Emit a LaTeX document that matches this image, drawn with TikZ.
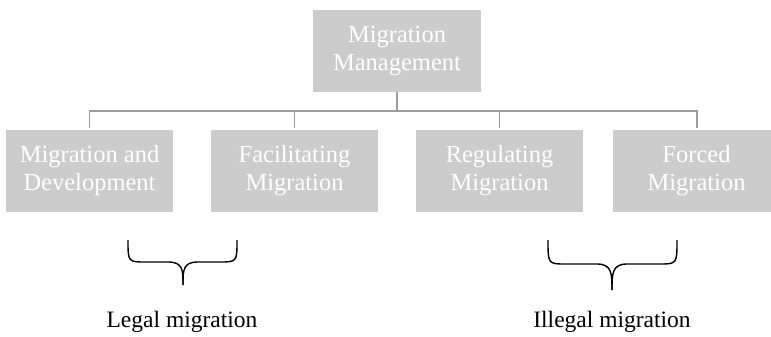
\documentclass[tikz,border=0pt]{standalone}
\usepackage{fontspec}
\setmainfont{Liberation Serif}
\begin{document}
\begin{tikzpicture}[x=1pt,y=-1pt,
  box/.style={fill=boxgray,draw=none,text=white,align=center,font=\fontsize{24.5}{28}\selectfont,inner sep=0pt,minimum width=167pt,minimum height=82pt},
  conn/.style={draw=linegray,line width=1.8pt},
  brace/.style={draw=black,line width=1.4pt},
  lab/.style={font=\fontsize{23.5}{27}\selectfont,text=black}]
\definecolor{boxgray}{HTML}{CCCCCC}
\definecolor{linegray}{HTML}{9C9C9C}
\useasboundingbox (0,0) rectangle (771,337);
\begin{scope}
\clip (0,0) rectangle (771,337);
\node[box,minimum width=168pt] (top) at (397,51) {Migration\\Management};
\node[box] (b1) at (89.5,171) {Migration and\\Development};
\node[box] (b2) at (294.5,171) {Facilitating\\Migration};
\node[box] (b3) at (499.5,171) {Regulating\\Migration};
\node[box] (b4) at (696.5,171) {Forced\\Migration};
\end{scope}
\coordinate (hub) at (397,111);
\draw[conn] (top.south) -- (hub);
\draw[conn] ([yshift=2pt]b1.north) -- (89.5,111) -- (697,111) -- ([xshift=0.5pt,yshift=2pt]b4.north);
\draw[conn] ([yshift=2pt]b2.north) -- (294.5,111);
\draw[conn] ([yshift=2pt]b3.north) -- (499.5,111);
% braces
\coordinate (L1) at (128,240); \coordinate (Lt) at (183,285); \coordinate (L2) at (237,240);
\draw[brace] (L1) .. controls (128,262) and (128,262) .. (146,262) -- (168,262) .. controls (183,262) and (183,270) .. (Lt);
\draw[brace] (L2) .. controls (237,262) and (237,262) .. (219,262) -- (198,262) .. controls (183,262) and (183,270) .. (Lt);
\coordinate (R1) at (548,240); \coordinate (Rt) at (612,290); \coordinate (R2) at (677,240);
\draw[brace] (R1) .. controls (548,264) and (548,264) .. (566,264) -- (597,264) .. controls (612,264) and (612,274) .. (Rt);
\draw[brace] (R2) .. controls (677,264) and (677,264) .. (659,264) -- (627,264) .. controls (612,264) and (612,274) .. (Rt);
\node[lab] (legal) at (182,322) {Legal migration};
\node[lab] (illegal) at (612,322) {Illegal migration};
\end{tikzpicture}
\end{document}
